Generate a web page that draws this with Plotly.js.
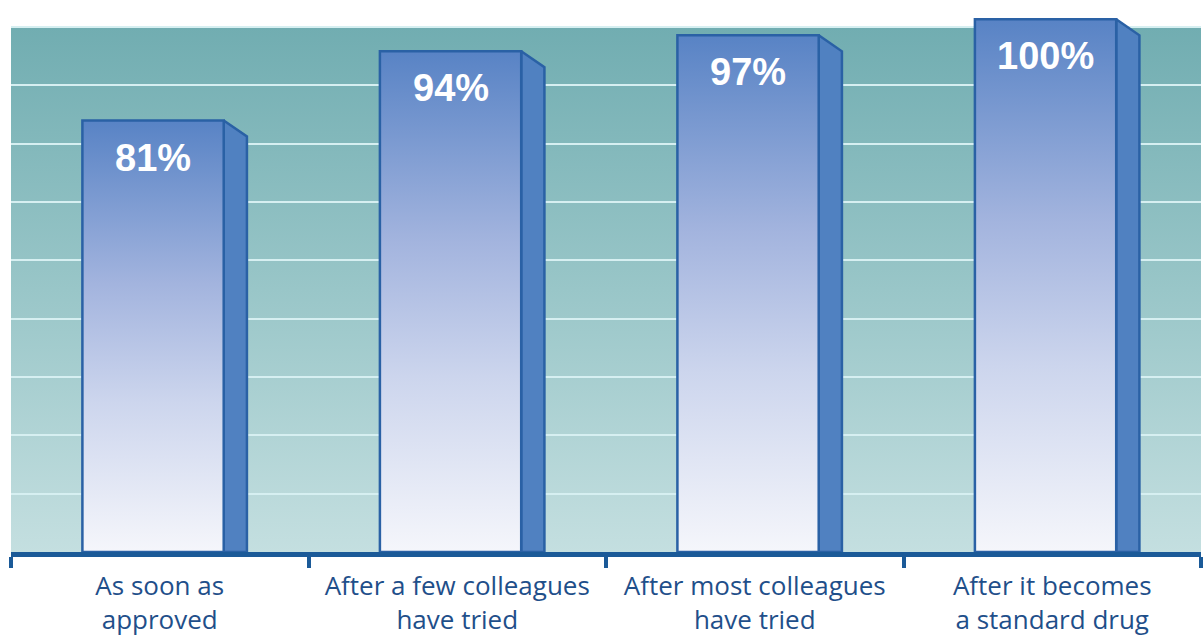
<!DOCTYPE html>
<html>
<head>
<meta charset="utf-8">
<script src="https://cdn.plot.ly/plotly-3.0.1.min.js"></script>
<style>
  html, body { margin: 0; padding: 0; background: #ffffff; }
  #chart { width: 1203px; height: 643px; }
</style>
</head>
<body>
<div id="chart"></div>
<script>
// ---- data ----
const categories = [
  'As soon as<br>approved',
  'After a few colleagues<br>have tried',
  'After most colleagues<br>have tried',
  'After it becomes<br>a standard drug'
];
const values = [81, 94, 97, 100];
const valueLabels = values.map(v => v + '%');
const gridStep = 10.95;
const gridCount = 9;

// ---- style constants ----
const frontL = -0.26, frontR = 0.215, sideR = 0.293, sideDrop = 3.0;
const outline = '#2a61a5';
const sideColor = '#5081c1';
const frontScale = [[0, '#f5f6fb'], [0.35, '#ccd5ed'], [0.62, '#a3b4de'], [1, '#5883c5']];

const idx = categories.map((_, i) => i);
const traces = [];
values.forEach((v, i) => {
  const xl = i + frontL, xr = i + frontR, xs = i + sideR;
  traces.push({
    type: 'scatter', mode: 'lines', fill: 'toself',
    x: [xr, xr, xs, xs, xr], y: [0, v, v - sideDrop, 0, 0],
    fillcolor: sideColor, line: { color: outline, width: 2.5 },
    hoverinfo: 'skip', showlegend: false
  });
  traces.push({
    type: 'scatter', mode: 'lines', fill: 'toself',
    x: [xl, xl, xr, xr, xl], y: [0, v, v, 0, 0],
    fillcolor: '#8aa6d8',
    fillgradient: { type: 'vertical', colorscale: frontScale },
    line: { color: outline, width: 2.5 },
    hoverinfo: 'skip', showlegend: false
  });
});

const annotations = values.map((v, i) => ({
  x: i + (frontL + frontR) / 2, y: v, xref: 'x', yref: 'y',
  yshift: -37, yanchor: 'middle', showarrow: false,
  text: '<b>' + valueLabels[i] + '</b>',
  font: { family: 'Liberation Sans, Arial, sans-serif', size: 38, color: '#ffffff' }
}));

const yTop = gridStep * gridCount;
const yMax = 103.63;

const bgSvg = "<svg xmlns='http://www.w3.org/2000/svg' width='100' height='100' preserveAspectRatio='none'>" +
  "<defs><linearGradient id='g' x1='0' y1='0' x2='0' y2='1'>" +
  "<stop offset='0' stop-color='#71adb1'/><stop offset='0.5' stop-color='#99c6c8'/><stop offset='1' stop-color='#c4dfe0'/>" +
  "</linearGradient></defs><rect width='100' height='100' fill='url(#g)'/></svg>";

const layout = {
  width: 1203, height: 643,
  margin: { l: 11, r: 2, t: 0, b: 91 },
  paper_bgcolor: '#ffffff', plot_bgcolor: '#ffffff',
  showlegend: false, hovermode: false,
  xaxis: {
    range: [-0.5, categories.length - 0.5],
    tickmode: 'array', tickvals: idx, ticktext: categories,
    ticks: '', showgrid: false, zeroline: false,
    showline: true, linecolor: '#1b5a98', linewidth: 5,
    tickfont: { family: 'Open Sans, sans-serif', size: 26, color: '#1f4f8a' },
    ticklabelstandoff: 7,
    minor: {
      tickmode: 'array', tickvals: [-0.5].concat(idx.map(i => i + 0.5)),
      ticks: 'outside', ticklen: 11, tickwidth: 4, tickcolor: '#1b5a98', showgrid: false
    },
    fixedrange: true
  },
  yaxis: {
    range: [0, yMax], tick0: 0, dtick: gridStep, tickmode: 'linear',
    showticklabels: false, ticks: '', showgrid: true,
    gridcolor: '#d6eff1', gridwidth: 2, zeroline: false, showline: false,
    fixedrange: true
  },
  images: [{
    source: 'data:image/svg+xml;charset=utf-8,' + encodeURIComponent(bgSvg),
    xref: 'x', yref: 'y', x: -0.5, y: yTop, sizex: categories.length, sizey: yTop,
    xanchor: 'left', yanchor: 'top', sizing: 'stretch', layer: 'below'
  }],
  annotations: annotations
};

Plotly.newPlot('chart', traces, layout, { displayModeBar: false, staticPlot: true });
</script>
</body>
</html>
